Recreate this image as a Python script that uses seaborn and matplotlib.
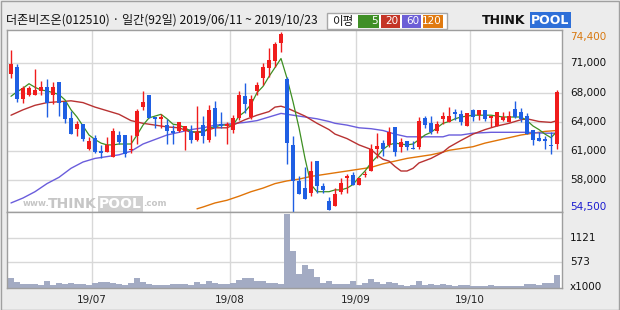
import numpy as np
import pandas as pd
import matplotlib
matplotlib.use("Agg")
import matplotlib.pyplot as plt
import seaborn as sns
from matplotlib.patches import Rectangle

# ---------------- data ----------------
title = "더존비즈온(012510) · 일간(92일) 2019/06/11 ~ 2019/10/23"

opens = [69800, 70600, 67000, 67500, 67400, 67900, 68300, 67400, 68900, 66700,
         64900, 63700, 64200, 61500, 62700, 61200, 61100, 60600, 63000, 63000,
         61300, 62900, 66100, 67400, 65000, 64800, 64100, 63500, 63400, 63400,
         63400, 62500, 64100, 62500, 66000, 64200, 64000, 63600, 64900, 67300,
         65000, 67900, 69300, 70400, 71200, 73200, 69200, 61900, 57900, 57100,
         56600, 60100, 57300, 55700, 55100, 56700, 58200, 58600, 57500, 58600,
         59000, 61500, 62100, 61900, 63900, 61700, 62300, 61600, 61700, 64900,
         64300, 63500, 64800, 64400, 65600, 65300, 64000, 65800, 65200, 65800,
         64900, 64000, 64700, 64400, 65900, 65600, 65100, 63600, 62700, 62600,
         61900, 62000]
highs = [72400, 70900, 68500, 68500, 70300, 69000, 69200, 68900, 68900, 66700,
         65700, 64600, 64200, 62800, 63000, 61900, 62800, 63800, 63400, 63000,
         63000, 65900, 67900, 67400, 65000, 65300, 64800, 64100, 64400, 64000,
         64100, 66200, 65100, 66300, 66800, 65600, 64500, 65200, 67900, 68800,
         67500, 68900, 71000, 72700, 73300, 74400, 69500, 62900, 58400, 59400,
         60100, 60100, 57700, 56100, 57100, 58200, 58700, 58900, 58200, 59000,
         62000, 63200, 62500, 63900, 63900, 62700, 62300, 62300, 65000, 65100,
         65100, 64600, 65600, 66100, 65900, 65800, 65500, 65900, 65800, 65800,
         65100, 65600, 65600, 65700, 66800, 66000, 65500, 63600, 63300, 62900,
         63300, 68000]
lows = [69300, 66700, 66600, 67300, 67400, 67500, 65000, 66400, 65100, 64300,
        63100, 62900, 62300, 61300, 61000, 60500, 61100, 60600, 62000, 60600,
        61000, 62000, 65800, 64900, 63800, 63800, 62000, 62000, 63300, 61300,
        62100, 62300, 62100, 62200, 62900, 63800, 62000, 63200, 64700, 65400,
        64800, 67500, 68600, 69400, 70600, 72200, 59800, 54500, 56400, 55900,
        56200, 56600, 56600, 54700, 55100, 56400, 56600, 57400, 57400, 58300,
        59000, 60400, 60700, 61700, 60700, 61100, 61300, 61400, 61500, 63800,
        63100, 63200, 64200, 64400, 64700, 64100, 64000, 64600, 64700, 64600,
        63900, 64000, 64600, 64400, 64900, 64500, 63100, 61900, 62300, 61400,
        60900, 61500]
closes = [70900, 67000, 68200, 68200, 68000, 68300, 66600, 68300, 66600, 64800,
          63100, 64200, 62600, 62300, 61100, 61000, 61900, 63400, 62200, 60900,
          61500, 65700, 66700, 64900, 64800, 65000, 63400, 63200, 64400, 64000,
          62400, 63300, 62900, 65800, 63800, 64000, 64200, 64900, 67500, 66400,
          67000, 68600, 70600, 71300, 73100, 74200, 62100, 57900, 56400, 55900,
          59000, 57300, 56900, 54700, 56400, 57700, 58500, 57500, 58200, 58700,
          61400, 61800, 61500, 63300, 61100, 62200, 61700, 61400, 64600, 64100,
          63300, 64200, 65100, 65100, 65300, 64400, 65400, 65000, 65800, 64800,
          65100, 65600, 65000, 65100, 65000, 64800, 63100, 62400, 62300, 62300,
          61800, 67800]
volumes = [232, 128, 90, 90, 90, 68, 158, 68, 105, 90,
           112, 90, 90, 68, 112, 135, 135, 112, 90, 68,
           112, 225, 135, 98, 68, 68, 68, 90, 90, 90,
           68, 135, 90, 158, 112, 90, 90, 112, 188, 232,
           232, 158, 158, 112, 112, 90, 1642, 818, 315, 502,
           412, 248, 112, 158, 90, 90, 90, 158, 68, 112,
           202, 135, 90, 135, 112, 68, 45, 68, 158, 68,
           90, 68, 90, 68, 45, 68, 68, 45, 45, 45,
           68, 45, 45, 45, 45, 45, 90, 90, 68, 112,
           112, 292]

ma5 = [67300, 67800, 68200, 68700, 68300, 68000, 67900, 67700, 67500, 66900,
       65800, 65000, 64000, 63000, 62500, 62100, 61900, 61900, 62000, 62000,
       62000, 63000, 64100, 64900, 65100, 65300, 64800, 64200, 64100, 63800,
       63400, 63300, 63300, 63800, 63900, 64100, 64100, 64100, 65100, 65600,
       66400, 67700, 68400, 69500, 70500, 71500, 69300, 66700, 63800, 60400,
       57500, 56700, 56700, 56700, 56900, 56900, 57100, 57500, 58300, 59000,
       59900, 60600, 61400, 61900, 62100, 62000, 61900, 62000, 62500, 63000,
       63300, 63800, 64300, 64500, 64800, 65000, 65100, 65200, 65200, 65200,
       65200, 65100, 65000, 65000, 65000, 65000, 64600, 64000, 63600, 63100,
       62700, 63400]

ma20_idx = [0, 2, 4, 6, 8, 10, 12, 14, 16, 18, 20, 22, 24, 26, 28, 30, 32, 34, 36, 37,
            39, 41, 43, 44, 45, 46, 47, 49, 51, 53, 54, 56, 58, 60, 61, 62, 63, 64, 65, 66,
            67, 68, 70, 72, 73, 75, 77, 79, 81, 83, 85, 86, 88, 90, 91]
ma20 = [65200, 65800, 66300, 66600, 66700, 66800, 66600, 66100, 65700, 65300, 64600, 64300,
        64100, 63900, 63800, 63300, 63400, 63800, 63800, 64100, 64700, 65200, 65600, 66100,
        66200, 66000, 65700, 65100, 64300, 63600, 63100, 62600, 61900, 61400, 60800, 60300,
        60100, 59500, 59000, 59000, 59300, 59900, 60400, 61100, 61650, 62400, 63100, 63600,
        64000, 64300, 64700, 64800, 64500, 64400, 64600]

ma60_idx = [0, 2, 4, 6, 8, 10, 12, 14, 16, 18, 20, 22, 24, 26, 28, 30, 32, 34, 36, 39,
            41, 43, 45, 46, 47, 49, 51, 53, 54, 56, 58, 60, 62, 64, 66, 68, 70, 72, 73, 75,
            77, 80, 83, 86, 89, 91]
ma60 = [55450, 56000, 56700, 57600, 58300, 59300, 60000, 60400, 60600, 60800, 61200, 62000,
        62500, 63000, 63300, 63600, 63800, 64100, 64200, 64400, 64600, 65000, 65400, 65300,
        65200, 65000, 64800, 64500, 64300, 64100, 63800, 63700, 63500, 63100, 62800, 62800,
        62800, 62800, 63000, 63000, 63200, 63300, 63300, 63300, 63200, 63200]

ma120_idx = [31, 32, 34, 36, 38, 40, 42, 44, 46, 48, 50, 52, 54, 56, 58, 60, 62, 64, 66, 68,
             70, 72, 73, 75, 77, 79, 81, 83, 85, 87, 89, 91]
ma120 = [54800, 55000, 55450, 55750, 56200, 56700, 57100, 57600, 57900, 58100, 58400, 58600,
         58800, 59000, 59200, 59400, 59800, 60100, 60400, 60600, 60800, 61100, 61300, 61500,
         61700, 62100, 62400, 62700, 63000, 63200, 63400, 63500]

price_grid = [71000, 67700, 64450, 61230, 58000]
price_grid_labels = ["71,000", "68,000", "64,000", "61,000", "58,000"]
max_label, min_label = "74,400", "54,500"
vol_grid = [573, 1121]
vol_grid_labels = ["573", "1121"]
month_labels = ["19/07", "19/08", "19/09", "19/10"]
month_start_idx = [14, 37, 58, 77]
legend_periods = ["5", "20", "60", "120"]

# ---------------- style ----------------
RED = "#f01c1c"
BLUE = "#1f5fe3"
VOLC = "#a3abc3"
GRID = "#d8d8d8"
FRAME = "#9e9e9e"
MA_COLORS = ["#3d8f22", "#b83232", "#6a5ddc", "#e07408"]
BOX_COLORS = ["#3f8f26", "#c43526", "#6c5fd6", "#e07a10"]

sns.set_theme(style="white")
plt.rcParams["font.family"] = ["Noto Sans CJK KR", "DejaVu Sans"]

W, H = 620, 310
fig = plt.figure(figsize=(W / 100, H / 100), dpi=100, facecolor="#ececec")

def fx(px):
    return px / W

def fy(py):
    return 1 - py / H

ax = fig.add_axes([fx(7), fy(212), (562 - 7) / W, (212 - 30) / H])
axv = fig.add_axes([fx(7), fy(288), (562 - 7) / W, (288 - 212) / H], sharex=ax)
ax.set_facecolor("white")
axv.set_facecolor("white")

df = pd.DataFrame({"i": np.arange(len(opens)), "open": opens, "high": highs,
                   "low": lows, "close": closes, "vol": volumes, "ma5": ma5})
up = df["close"] >= df["open"]
cols = np.where(up, RED, BLUE)

# watermark inside the price panel, behind the marks
wy = fy(204)
WM = "#c6c6c6"
ftr = fig.transFigure
ax.text(fx(23), wy, "www.", color=WM, fontsize=6.2, fontweight="bold",
        family="DejaVu Sans", va="center", ha="left", zorder=0.8, transform=ftr)
ax.text(fx(48), wy, "THINK", color=WM, fontsize=10, fontweight="bold",
        family="DejaVu Sans", va="center", ha="left", zorder=0.8, transform=ftr)
ax.text(fx(99), wy, "POOL", color="white", fontsize=10, fontweight="bold",
        family="DejaVu Sans", va="center", ha="left", zorder=0.8, transform=ftr,
        bbox=dict(boxstyle="square,pad=0.05", fc="#d0d0d0", ec="none"))
ax.text(fx(143), wy, ".com", color=WM, fontsize=6.2, fontweight="bold",
        family="DejaVu Sans", va="center", ha="left", zorder=0.8, transform=ftr)

# grid
ax.set_yticks(price_grid)
ax.set_xticks([m - 0.5 for m in month_start_idx])
ax.grid(True, color=GRID, linewidth=1)
ax.set_axisbelow(True)

# moving averages
sns.lineplot(x=ma120_idx, y=ma120, ax=ax, color=MA_COLORS[3], linewidth=1.0)
sns.lineplot(x=ma60_idx, y=ma60, ax=ax, color=MA_COLORS[2], linewidth=1.0)
sns.lineplot(x=ma20_idx, y=ma20, ax=ax, color=MA_COLORS[1], linewidth=1.0)
sns.lineplot(data=df, x="i", y="ma5", ax=ax, color=MA_COLORS[0], linewidth=0.9)

# candles
ax.vlines(df["i"], df["low"], df["high"], colors=cols, linewidth=1.0, zorder=3)
body_bot = np.minimum(df["open"], df["close"])
body_h = np.maximum((df["close"] - df["open"]).abs(), 120)
ax.bar(df["i"], body_h, bottom=body_bot, width=0.82, color=cols, linewidth=0, zorder=4)

ax.set_xlim(-0.667, 91.83)
ax.set_ylim(54445, 74667)
ax.set_xlabel("")
ax.set_ylabel("")
ax.tick_params(left=False, bottom=False, labelleft=False, labelbottom=False)
for s in ax.spines.values():
    s.set_color(FRAME)
    s.set_linewidth(1)
    s.set_visible(True)

# volume
sns.barplot(data=df, x="i", y="vol", ax=axv, native_scale=True, color=VOLC,
            saturation=1, width=0.85, linewidth=0, errorbar=None)
axv.set_ylim(0, 1690)
axv.set_yticks(vol_grid)
axv.set_xticks([m - 0.5 for m in month_start_idx])
axv.grid(True, color=GRID, linewidth=1)
axv.set_axisbelow(True)
axv.set_xlim(-0.667, 91.83)
axv.set_xlabel("")
axv.set_ylabel("")
axv.tick_params(left=False, bottom=False, labelleft=False, labelbottom=False)
for s in axv.spines.values():
    s.set_color(FRAME)
    s.set_linewidth(1)

NUMF = ["DejaVu Sans"]
# month labels under the volume panel
xtr = axv.get_xaxis_transform()
for m, t in zip(month_start_idx, month_labels):
    axv.text(m - 0.5, -0.16, t, transform=xtr, ha="center", va="center",
             fontsize=7.5, family=NUMF, color="#222222", clip_on=False)

# right-side labels
tr = ax.get_yaxis_transform()
lx = (570 - 7) / (562 - 7)
for v, t in zip(price_grid, price_grid_labels):
    ax.text(lx, v, t, transform=tr, ha="left", va="center", fontsize=7.5,
            family=NUMF, color="#111111", clip_on=False)
ax.text(lx, 74400, max_label, transform=tr, ha="left", va="top", fontsize=7.5,
        family=NUMF, color="#d8780f", clip_on=False)
ax.text(lx, 54500, min_label, transform=tr, ha="left", va="bottom", fontsize=7.5,
        family=NUMF, color="#1c1cd0", clip_on=False)
trv = axv.get_yaxis_transform()
for v, t in zip(vol_grid, vol_grid_labels):
    axv.text(lx, v, t, transform=trv, ha="left", va="center", fontsize=7.5,
             family=NUMF, color="#111111", clip_on=False)
fig.text(fx(570), fy(287), "x1000", ha="left", va="center", fontsize=7.5,
         family=NUMF, color="#111111")

# title
fig.text(fx(6), fy(20), title, ha="left", va="center", fontsize=8.7, color="#111111")

# legend box
fig.patches.append(Rectangle((fx(327), fy(29)), (447 - 327) / W, 16 / H,
                             transform=fig.transFigure, fc="white", ec="#a8a8a8", lw=1))
fig.text(fx(332), fy(21), "이평", ha="left", va="center", fontsize=8.3, color="#111111")
box_x = [(358, 379), (381, 400), (402, 421), (423, 443)]
for (x0, x1), c, t in zip(box_x, BOX_COLORS, legend_periods):
    fig.patches.append(Rectangle((fx(x0), fy(28)), (x1 - x0) / W, 13 / H,
                                 transform=fig.transFigure, fc=c, ec="none"))
    fig.text(fx(x1 - 1.5), fy(21.5), t, ha="right", va="center", fontsize=7.5,
             color="white", family=NUMF)

# header logo
fig.text(fx(482), fy(20), "THINK", ha="left", va="center", fontsize=9,
         fontweight="heavy", family="DejaVu Sans", color="#111111")
fig.text(fx(531), fy(20), "POOL", ha="left", va="center", fontsize=9,
         fontweight="heavy", family="DejaVu Sans", color="white",
         bbox=dict(boxstyle="square,pad=0.12", fc="#2e6fd8", ec="none"))

# outer border
fig.patches.append(Rectangle((0.5 / W, 0.5 / H), (W - 1.5) / W, (H - 1.5) / H,
                             transform=fig.transFigure, fc="none", ec="#a0a0a0", lw=1))

fig.savefig("out.png", dpi=100, facecolor=fig.get_facecolor())
